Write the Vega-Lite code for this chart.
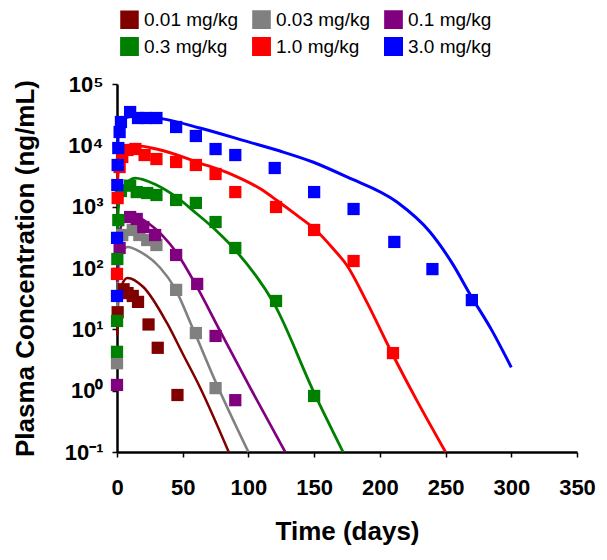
{
  "$schema": "https://vega.github.io/schema/vega-lite/v6.json",
  "width": 460,
  "height": 368,
  "autosize": {"type": "none"},
  "padding": {"left": 117, "top": 84, "right": 30, "bottom": 108},
  "background": "white",
  "config": {
    "view": {"stroke": null},
    "font": "Liberation Sans",
    "axis": {
      "grid": false,
      "domainColor": "black",
      "domainWidth": 2.5,
      "tickColor": "black",
      "tickWidth": 1.5,
      "tickSize": 5,
      "labelFont": "Liberation Sans",
      "labelFontWeight": "bold",
      "labelFontSize": 22,
      "labelColor": "black",
      "titleFont": "Liberation Sans",
      "titleFontWeight": "bold",
      "titleFontSize": 26,
      "titleColor": "black"
    }
  },
  "datasets": {
    "obs": [
      {"dose": "0.01 mg/kg", "day": 0.5, "conc": 19},
      {"dose": "0.01 mg/kg", "day": 5, "conc": 45},
      {"dose": "0.01 mg/kg", "day": 8, "conc": 39},
      {"dose": "0.01 mg/kg", "day": 12, "conc": 35},
      {"dose": "0.01 mg/kg", "day": 16, "conc": 28},
      {"dose": "0.01 mg/kg", "day": 24, "conc": 12},
      {"dose": "0.01 mg/kg", "day": 31, "conc": 5},
      {"dose": "0.01 mg/kg", "day": 46, "conc": 0.85},
      {"dose": "0.03 mg/kg", "day": 0, "conc": 2.8},
      {"dose": "0.03 mg/kg", "day": 4, "conc": 345},
      {"dose": "0.03 mg/kg", "day": 12, "conc": 417},
      {"dose": "0.03 mg/kg", "day": 17, "conc": 345},
      {"dose": "0.03 mg/kg", "day": 23, "conc": 286},
      {"dose": "0.03 mg/kg", "day": 30, "conc": 237},
      {"dose": "0.03 mg/kg", "day": 45, "conc": 44},
      {"dose": "0.03 mg/kg", "day": 60, "conc": 8.7},
      {"dose": "0.03 mg/kg", "day": 75, "conc": 1.1},
      {"dose": "0.1 mg/kg", "day": 0, "conc": 1.24},
      {"dose": "0.1 mg/kg", "day": 2, "conc": 212},
      {"dose": "0.1 mg/kg", "day": 10, "conc": 678},
      {"dose": "0.1 mg/kg", "day": 15, "conc": 630},
      {"dose": "0.1 mg/kg", "day": 20, "conc": 466},
      {"dose": "0.1 mg/kg", "day": 29, "conc": 345},
      {"dose": "0.1 mg/kg", "day": 45, "conc": 163},
      {"dose": "0.1 mg/kg", "day": 61, "conc": 55},
      {"dose": "0.1 mg/kg", "day": 75, "conc": 7.8},
      {"dose": "0.1 mg/kg", "day": 90, "conc": 0.7},
      {"dose": "0.3 mg/kg", "day": 0, "conc": 4.3},
      {"dose": "0.3 mg/kg", "day": 0.04, "conc": 13.7},
      {"dose": "0.3 mg/kg", "day": 0.25, "conc": 140},
      {"dose": "0.3 mg/kg", "day": 1, "conc": 605},
      {"dose": "0.3 mg/kg", "day": 3, "conc": 1800},
      {"dose": "0.3 mg/kg", "day": 10, "conc": 2200},
      {"dose": "0.3 mg/kg", "day": 15, "conc": 1730},
      {"dose": "0.3 mg/kg", "day": 23, "conc": 1670},
      {"dose": "0.3 mg/kg", "day": 30, "conc": 1550},
      {"dose": "0.3 mg/kg", "day": 45, "conc": 1285},
      {"dose": "0.3 mg/kg", "day": 60, "conc": 1150},
      {"dose": "0.3 mg/kg", "day": 75, "conc": 562},
      {"dose": "0.3 mg/kg", "day": 90, "conc": 212},
      {"dose": "0.3 mg/kg", "day": 121, "conc": 29},
      {"dose": "0.3 mg/kg", "day": 150, "conc": 0.82},
      {"dose": "1.0 mg/kg", "day": 0, "conc": 80},
      {"dose": "1.0 mg/kg", "day": 0.5, "conc": 1380},
      {"dose": "1.0 mg/kg", "day": 2, "conc": 4430},
      {"dose": "1.0 mg/kg", "day": 4, "conc": 6460},
      {"dose": "1.0 mg/kg", "day": 8, "conc": 8400},
      {"dose": "1.0 mg/kg", "day": 14, "conc": 8720},
      {"dose": "1.0 mg/kg", "day": 21, "conc": 6950},
      {"dose": "1.0 mg/kg", "day": 30, "conc": 5980},
      {"dose": "1.0 mg/kg", "day": 45, "conc": 5350},
      {"dose": "1.0 mg/kg", "day": 60, "conc": 4780},
      {"dose": "1.0 mg/kg", "day": 75, "conc": 3410},
      {"dose": "1.0 mg/kg", "day": 90, "conc": 1730},
      {"dose": "1.0 mg/kg", "day": 121, "conc": 988},
      {"dose": "1.0 mg/kg", "day": 150, "conc": 417},
      {"dose": "1.0 mg/kg", "day": 180, "conc": 130},
      {"dose": "1.0 mg/kg", "day": 210, "conc": 4.1},
      {"dose": "3.0 mg/kg", "day": 0, "conc": 35},
      {"dose": "3.0 mg/kg", "day": 0.04, "conc": 310},
      {"dose": "3.0 mg/kg", "day": 0.25, "conc": 2250},
      {"dose": "3.0 mg/kg", "day": 0.5, "conc": 4780},
      {"dose": "3.0 mg/kg", "day": 1, "conc": 9040},
      {"dose": "3.0 mg/kg", "day": 2, "conc": 16500},
      {"dose": "3.0 mg/kg", "day": 3, "conc": 24000},
      {"dose": "3.0 mg/kg", "day": 10, "conc": 34900},
      {"dose": "3.0 mg/kg", "day": 16, "conc": 27900},
      {"dose": "3.0 mg/kg", "day": 22, "conc": 27900},
      {"dose": "3.0 mg/kg", "day": 30, "conc": 27900},
      {"dose": "3.0 mg/kg", "day": 45, "conc": 19900},
      {"dose": "3.0 mg/kg", "day": 60, "conc": 14200},
      {"dose": "3.0 mg/kg", "day": 75, "conc": 8700},
      {"dose": "3.0 mg/kg", "day": 90, "conc": 6950},
      {"dose": "3.0 mg/kg", "day": 120, "conc": 4270},
      {"dose": "3.0 mg/kg", "day": 150, "conc": 1730},
      {"dose": "3.0 mg/kg", "day": 180, "conc": 916},
      {"dose": "3.0 mg/kg", "day": 211, "conc": 266},
      {"dose": "3.0 mg/kg", "day": 240, "conc": 96},
      {"dose": "3.0 mg/kg", "day": 270, "conc": 30}
    ],
    "fit": [
      {"dose": "0.01 mg/kg", "day": 0.2, "conc": 8},
      {"dose": "0.01 mg/kg", "day": 1, "conc": 30},
      {"dose": "0.01 mg/kg", "day": 4, "conc": 55},
      {"dose": "0.01 mg/kg", "day": 8, "conc": 69},
      {"dose": "0.01 mg/kg", "day": 20, "conc": 49},
      {"dose": "0.01 mg/kg", "day": 38, "conc": 12.7},
      {"dose": "0.01 mg/kg", "day": 50, "conc": 4},
      {"dose": "0.01 mg/kg", "day": 63, "conc": 1.15},
      {"dose": "0.01 mg/kg", "day": 85, "conc": 0.1},
      {"dose": "0.03 mg/kg", "day": 0.2, "conc": 20},
      {"dose": "0.03 mg/kg", "day": 1, "conc": 80},
      {"dose": "0.03 mg/kg", "day": 3, "conc": 160},
      {"dose": "0.03 mg/kg", "day": 8, "conc": 220},
      {"dose": "0.03 mg/kg", "day": 18, "conc": 182},
      {"dose": "0.03 mg/kg", "day": 33, "conc": 100},
      {"dose": "0.03 mg/kg", "day": 44, "conc": 47},
      {"dose": "0.03 mg/kg", "day": 58, "conc": 10},
      {"dose": "0.03 mg/kg", "day": 75, "conc": 1.4},
      {"dose": "0.03 mg/kg", "day": 100, "conc": 0.1},
      {"dose": "0.1 mg/kg", "day": 0.2, "conc": 60},
      {"dose": "0.1 mg/kg", "day": 1, "conc": 250},
      {"dose": "0.1 mg/kg", "day": 4, "conc": 550},
      {"dose": "0.1 mg/kg", "day": 10, "conc": 790},
      {"dose": "0.1 mg/kg", "day": 20, "conc": 607},
      {"dose": "0.1 mg/kg", "day": 35, "conc": 331},
      {"dose": "0.1 mg/kg", "day": 45, "conc": 182},
      {"dose": "0.1 mg/kg", "day": 60, "conc": 53},
      {"dose": "0.1 mg/kg", "day": 78, "conc": 9.8},
      {"dose": "0.1 mg/kg", "day": 101, "conc": 1.15},
      {"dose": "0.1 mg/kg", "day": 128, "conc": 0.1},
      {"dose": "0.3 mg/kg", "day": 0.2, "conc": 300},
      {"dose": "0.3 mg/kg", "day": 1, "conc": 900},
      {"dose": "0.3 mg/kg", "day": 3, "conc": 1800},
      {"dose": "0.3 mg/kg", "day": 8, "conc": 2520},
      {"dose": "0.3 mg/kg", "day": 14, "conc": 2930},
      {"dose": "0.3 mg/kg", "day": 30, "conc": 2250},
      {"dose": "0.3 mg/kg", "day": 45, "conc": 1440},
      {"dose": "0.3 mg/kg", "day": 60, "conc": 789},
      {"dose": "0.3 mg/kg", "day": 75, "conc": 417},
      {"dose": "0.3 mg/kg", "day": 90, "conc": 196},
      {"dose": "0.3 mg/kg", "day": 120, "conc": 25},
      {"dose": "0.3 mg/kg", "day": 150, "conc": 0.92},
      {"dose": "0.3 mg/kg", "day": 172, "conc": 0.1},
      {"dose": "1.0 mg/kg", "day": 0.2, "conc": 1500},
      {"dose": "1.0 mg/kg", "day": 1, "conc": 4000},
      {"dose": "1.0 mg/kg", "day": 5, "conc": 7800},
      {"dose": "1.0 mg/kg", "day": 15, "conc": 9800},
      {"dose": "1.0 mg/kg", "day": 30, "conc": 8700},
      {"dose": "1.0 mg/kg", "day": 63, "conc": 5150},
      {"dose": "1.0 mg/kg", "day": 88, "conc": 3300},
      {"dose": "1.0 mg/kg", "day": 110, "conc": 1900},
      {"dose": "1.0 mg/kg", "day": 122, "conc": 1250},
      {"dose": "1.0 mg/kg", "day": 137, "conc": 720},
      {"dose": "1.0 mg/kg", "day": 151, "conc": 420},
      {"dose": "1.0 mg/kg", "day": 165, "conc": 200},
      {"dose": "1.0 mg/kg", "day": 175, "conc": 110},
      {"dose": "1.0 mg/kg", "day": 190, "conc": 28},
      {"dose": "1.0 mg/kg", "day": 208, "conc": 4.6},
      {"dose": "1.0 mg/kg", "day": 228, "conc": 0.7},
      {"dose": "1.0 mg/kg", "day": 250, "conc": 0.1},
      {"dose": "3.0 mg/kg", "day": 0.2, "conc": 5000},
      {"dose": "3.0 mg/kg", "day": 1, "conc": 15000},
      {"dose": "3.0 mg/kg", "day": 3, "conc": 24000},
      {"dose": "3.0 mg/kg", "day": 8, "conc": 29000},
      {"dose": "3.0 mg/kg", "day": 14, "conc": 30000},
      {"dose": "3.0 mg/kg", "day": 25, "conc": 29000},
      {"dose": "3.0 mg/kg", "day": 35, "conc": 27000},
      {"dose": "3.0 mg/kg", "day": 63, "conc": 19200},
      {"dose": "3.0 mg/kg", "day": 100, "conc": 11400},
      {"dose": "3.0 mg/kg", "day": 124, "conc": 8070},
      {"dose": "3.0 mg/kg", "day": 149, "conc": 5350},
      {"dose": "3.0 mg/kg", "day": 175, "conc": 3050},
      {"dose": "3.0 mg/kg", "day": 213, "conc": 1190},
      {"dose": "3.0 mg/kg", "day": 238, "conc": 390},
      {"dose": "3.0 mg/kg", "day": 255, "conc": 120},
      {"dose": "3.0 mg/kg", "day": 269, "conc": 36},
      {"dose": "3.0 mg/kg", "day": 285, "conc": 9.8},
      {"dose": "3.0 mg/kg", "day": 300, "conc": 2.4}
    ]
  },
  "encoding": {
    "x": {
      "field": "day", "type": "quantitative",
      "scale": {"domain": [0, 350], "nice": false, "zero": false},
      "axis": {"values": [0, 50, 100, 150, 200, 250, 300, 350], "title": "Time (days)", "labelPadding": 20, "titlePadding": 20, "labelFlush": false}
    },
    "y": {
      "field": "conc", "type": "quantitative",
      "scale": {"type": "log", "domain": [0.1, 100000], "nice": false},
      "axis": {
        "values": [0.1, 1, 10, 100, 1000, 10000, 100000],
        "labelExpr": "datum.value < 0.5 ? '10⁻¹' : datum.value < 5 ? '10⁰' : datum.value < 50 ? '10¹' : datum.value < 500 ? '10²' : datum.value < 5000 ? '10³' : datum.value < 50000 ? '10⁴' : '10⁵'",
        "title": "Plasma Concentration (ng/mL)",
        "labelPadding": 9,
        "titlePadding": 26,
        "labelFlush": false
      }
    },
    "color": {
      "field": "dose", "type": "nominal",
      "scale": {
        "domain": ["0.01 mg/kg", "0.03 mg/kg", "0.1 mg/kg", "0.3 mg/kg", "1.0 mg/kg", "3.0 mg/kg"],
        "range": ["#800000", "#808080", "#800080", "#008000", "#FF0000", "#0000FF"]
      },
      "legend": {
        "title": null,
        "orient": "none",
        "legendX": 3,
        "legendY": -74,
        "columns": 3,
        "direction": "horizontal",
        "symbolType": "square",
        "symbolSize": 256,
        "symbolStrokeWidth": 0,
        "labelFont": "Liberation Sans",
        "labelFontSize": 19,
        "labelColor": "black",
        "labelOffset": 5,
        "columnPadding": 9,
        "rowPadding": -1,
        "padding": 0
      }
    }
  },
  "layer": [
    {
      "data": {"name": "fit"},
      "mark": {"type": "line", "interpolate": "monotone"},
      "encoding": {
        "strokeWidth": {
          "field": "dose", "type": "nominal",
          "scale": {
            "domain": ["0.01 mg/kg", "0.03 mg/kg", "0.1 mg/kg", "0.3 mg/kg", "1.0 mg/kg", "3.0 mg/kg"],
            "range": [2.5, 3, 3, 4, 2.5, 2.5]
          },
          "legend": null
        }
      }
    },
    {
      "data": {"name": "obs"},
      "mark": {"type": "point", "shape": "square", "filled": true, "size": 150, "opacity": 1}
    }
  ]
}
